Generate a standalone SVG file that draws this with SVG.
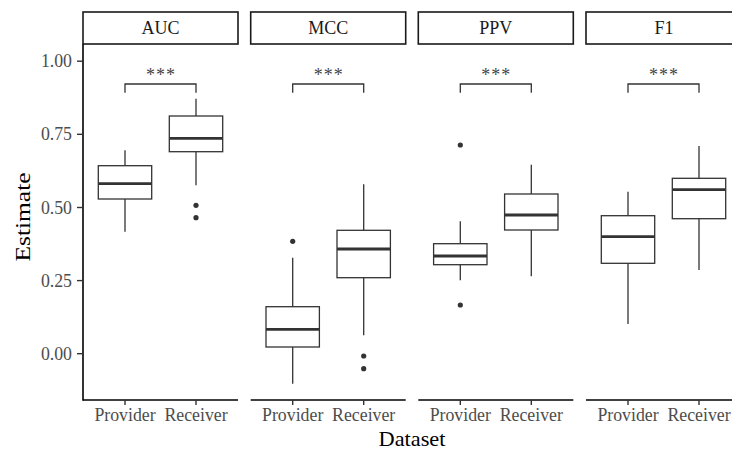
<svg xmlns="http://www.w3.org/2000/svg" width="732" height="451" viewBox="0 0 732 451">
<style>
.strip{fill:#fff;stroke:#1a1a1a;stroke-width:1.6}
.stxt{font-family:"Liberation Serif","Times New Roman",serif;font-size:18px;fill:#1a1a1a;text-anchor:middle}
.axt{font-family:"Liberation Serif","Times New Roman",serif;font-size:17.8px;fill:#4d4d4d}
.ttl{font-family:"Liberation Serif","Times New Roman",serif;font-size:22px;fill:#000;text-anchor:middle}
.ax{stroke:#000;stroke-width:1.6;fill:none}
.tk{stroke:#333;stroke-width:1.4;fill:none}
.box{fill:#fff;stroke:#333;stroke-width:1.3}
.wh{stroke:#333;stroke-width:1.3;fill:none}
.med{stroke:#333;stroke-width:2.8}
.out{fill:#333}
.br{stroke:#333;stroke-width:1.3;fill:none}
.sig{font-family:"Liberation Serif","Times New Roman",serif;font-size:18px;fill:#444;text-anchor:middle}
</style>

<g id="axes">
  <line class="ax" x1="83" y1="44" x2="83" y2="400.8"/>
  <g class="tk">
    <line x1="77" y1="61.2" x2="83" y2="61.2"/>
    <line x1="77" y1="134.3" x2="83" y2="134.3"/>
    <line x1="77" y1="207.5" x2="83" y2="207.5"/>
    <line x1="77" y1="280.6" x2="83" y2="280.6"/>
    <line x1="77" y1="353.7" x2="83" y2="353.7"/>
  </g>
  <g class="axt" text-anchor="end">
    <text x="72" y="67.3">1.00</text>
    <text x="72" y="140.4">0.75</text>
    <text x="72" y="213.6">0.50</text>
    <text x="72" y="286.7">0.25</text>
    <text x="72" y="359.8">0.00</text>
  </g>
  <text class="ttl" transform="translate(30,217) rotate(-90)" textLength="89" lengthAdjust="spacingAndGlyphs">Estimate</text>
  <text class="ttl" x="412" y="446" textLength="67" lengthAdjust="spacingAndGlyphs">Dataset</text>
</g>

<g id="panel-auc">
  <rect class="strip" x="83" y="12" width="155" height="32"/>
  <text class="stxt" x="160.5" y="34.3">AUC</text>
  <line class="ax" x1="83" y1="400" x2="238" y2="400"/>
  <line class="tk" x1="125" y1="400" x2="125" y2="405"/>
  <line class="tk" x1="196" y1="400" x2="196" y2="405"/>
  <text class="axt" x="125" y="421" text-anchor="middle">Provider</text>
  <text class="axt" x="196" y="421" text-anchor="middle">Receiver</text>
  <line class="wh" x1="125" y1="150.3" x2="125" y2="231.7"/>
  <rect class="box" x="98.3" y="165.7" width="53.4" height="33.3"/>
  <line class="med" x1="98.3" y1="183.7" x2="151.7" y2="183.7"/>
  <line class="wh" x1="196" y1="98.7" x2="196" y2="185.3"/>
  <rect class="box" x="169.3" y="116" width="53.4" height="35.7"/>
  <line class="med" x1="169.3" y1="138.3" x2="222.7" y2="138.3"/>
  <circle class="out" cx="196" cy="205.3" r="2.6"/>
  <circle class="out" cx="196" cy="217.7" r="2.6"/>
  <path class="br" d="M125,92.7 V84 H196 V92.7"/>
  <text class="sig" x="160.5" y="80.6" textLength="29" lengthAdjust="spacing">***</text>
</g>

<g id="panel-mcc">
  <rect class="strip" x="250.7" y="12" width="155" height="32"/>
  <text class="stxt" x="328.2" y="34.3">MCC</text>
  <line class="ax" x1="250.7" y1="400" x2="405.7" y2="400"/>
  <line class="tk" x1="292.7" y1="400" x2="292.7" y2="405"/>
  <line class="tk" x1="363.7" y1="400" x2="363.7" y2="405"/>
  <text class="axt" x="292.7" y="421" text-anchor="middle">Provider</text>
  <text class="axt" x="363.7" y="421" text-anchor="middle">Receiver</text>
  <line class="wh" x1="292.7" y1="257.7" x2="292.7" y2="383.7"/>
  <rect class="box" x="266" y="306.7" width="53.4" height="40.3"/>
  <line class="med" x1="266" y1="329.3" x2="319.4" y2="329.3"/>
  <circle class="out" cx="292.7" cy="241.3" r="2.6"/>
  <line class="wh" x1="363.7" y1="184.3" x2="363.7" y2="335.3"/>
  <rect class="box" x="337" y="230.3" width="53.4" height="47.4"/>
  <line class="med" x1="337" y1="249" x2="390.4" y2="249"/>
  <circle class="out" cx="363.7" cy="356" r="2.6"/>
  <circle class="out" cx="363.7" cy="368.7" r="2.6"/>
  <path class="br" d="M292.7,92.7 V84 H363.7 V92.7"/>
  <text class="sig" x="328.2" y="80.6" textLength="29" lengthAdjust="spacing">***</text>
</g>

<g id="panel-ppv">
  <rect class="strip" x="418.3" y="12" width="155" height="32"/>
  <text class="stxt" x="495.8" y="34.3">PPV</text>
  <line class="ax" x1="418.3" y1="400" x2="573.3" y2="400"/>
  <line class="tk" x1="460.3" y1="400" x2="460.3" y2="405"/>
  <line class="tk" x1="531.3" y1="400" x2="531.3" y2="405"/>
  <text class="axt" x="460.3" y="421" text-anchor="middle">Provider</text>
  <text class="axt" x="531.3" y="421" text-anchor="middle">Receiver</text>
  <line class="wh" x1="460.3" y1="221.3" x2="460.3" y2="280.3"/>
  <rect class="box" x="433.6" y="243.7" width="53.4" height="21"/>
  <line class="med" x1="433.6" y1="256" x2="487" y2="256"/>
  <circle class="out" cx="460.3" cy="145" r="2.6"/>
  <circle class="out" cx="460.3" cy="305" r="2.6"/>
  <line class="wh" x1="531.3" y1="164.7" x2="531.3" y2="276.3"/>
  <rect class="box" x="504.6" y="194" width="53.4" height="36"/>
  <line class="med" x1="504.6" y1="215" x2="558" y2="215"/>
  <path class="br" d="M460.3,92.7 V84 H531.3 V92.7"/>
  <text class="sig" x="495.8" y="80.6" textLength="29" lengthAdjust="spacing">***</text>
</g>

<g id="panel-f1">
  <rect class="strip" x="586" y="12" width="155" height="32"/>
  <text class="stxt" x="664" y="34.3">F1</text>
  <line class="ax" x1="586" y1="400" x2="741" y2="400"/>
  <line class="tk" x1="628" y1="400" x2="628" y2="405"/>
  <line class="tk" x1="699" y1="400" x2="699" y2="405"/>
  <text class="axt" x="628" y="421" text-anchor="middle">Provider</text>
  <text class="axt" x="699" y="421" text-anchor="middle">Receiver</text>
  <line class="wh" x1="628" y1="191.7" x2="628" y2="324"/>
  <rect class="box" x="601.3" y="215.7" width="53.4" height="47.6"/>
  <line class="med" x1="601.3" y1="236.7" x2="654.7" y2="236.7"/>
  <line class="wh" x1="699" y1="146" x2="699" y2="270"/>
  <rect class="box" x="672.3" y="178.3" width="53.4" height="40.4"/>
  <line class="med" x1="672.3" y1="189.7" x2="725.7" y2="189.7"/>
  <path class="br" d="M628,92.7 V84 H699 V92.7"/>
  <text class="sig" x="663.5" y="80.6" textLength="29" lengthAdjust="spacing">***</text>
</g>
</svg>
